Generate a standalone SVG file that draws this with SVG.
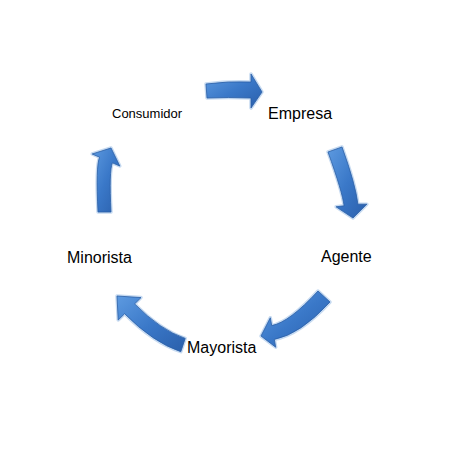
<svg xmlns="http://www.w3.org/2000/svg" width="458" height="458" viewBox="0 0 458 458">
<style>
.lbl{font-family:"Liberation Sans",Arial,sans-serif;fill:#000}
.big{font-size:16px}
.small{font-size:13px}
.glow{fill:none;stroke:#c6daf1;stroke-width:3.5;stroke-linejoin:round}
.arr{fill:url(#blue);stroke:#2a5ea6;stroke-width:0.8;stroke-linejoin:round}
</style>
<defs>
<linearGradient id="blue" x1="0" y1="0" x2="1" y2="1">
<stop offset="0" stop-color="#5d9ae0"/>
<stop offset="0.5" stop-color="#3a78c8"/>
<stop offset="1" stop-color="#2a5fab"/>
</linearGradient>
</defs>
<rect width="458" height="458" fill="#fff"/>
<g id="connectors">
<g id="a1">
<path class="glow" d="M206,84 Q228,81 251,82 L251,74 L262,92 L251,108 L251,98 Q228,97 207,98 Z"/>
<path class="arr" d="M206,84 Q228,81 251,82 L251,74 L262,92 L251,108 L251,98 Q228,97 207,98 Z"/>
</g>
<g id="a2">
<path class="glow" d="M328,152 Q342.4,191.9 344.1,205.8 L336.1,206.8 L353,218 L366.9,204.2 L357.9,204.2 Q355.6,184.5 342,147 Z"/>
<path class="arr" d="M328,152 Q342.4,191.9 344.1,205.8 L336.1,206.8 L353,218 L366.9,204.2 L357.9,204.2 Q355.6,184.5 342,147 Z"/>
</g>
<g id="a3">
<path class="glow" d="M318,291 Q289.3,322.3 271.7,325.6 L270.3,317.8 L261,336 L275.7,347.2 L274.3,339.4 Q300.1,334.6 330,302 Z"/>
<path class="arr" d="M318,291 Q289.3,322.3 271.7,325.6 L270.3,317.8 L261,336 L275.7,347.2 L274.3,339.4 Q300.1,334.6 330,302 Z"/>
</g>
<g id="a4">
<path class="glow" d="M185.2,338.4 Q160.4,330 134.6,303.9 L141,297.6 L117,296 L118.2,320 L124.6,313.7 Q152.9,342.3 180.8,351.7 Z"/>
<path class="arr" d="M185.2,338.4 Q160.4,330 134.6,303.9 L141,297.6 L117,296 L118.2,320 L124.6,313.7 Q152.9,342.3 180.8,351.7 Z"/>
</g>
<g id="a5">
<path class="glow" d="M98,212 Q95.7,166.2 99.6,157.2 L92.2,154 L111,148 L119.8,166 L112.4,162.8 Q108.9,170.8 111,212 Z"/>
<path class="arr" d="M98,212 Q95.7,166.2 99.6,157.2 L92.2,154 L111,148 L119.8,166 L112.4,162.8 Q108.9,170.8 111,212 Z"/>
</g>
</g>
<g id="consumidor"><text class="lbl small" x="112" y="118">Consumidor</text></g>
<g id="empresa"><text class="lbl big" x="268" y="119">Empresa</text></g>
<g id="agente"><text class="lbl big" x="321" y="262">Agente</text></g>
<g id="minorista"><text class="lbl big" x="67" y="263">Minorista</text></g>
<g id="mayorista"><text class="lbl big" x="187" y="353">Mayorista</text></g>
</svg>
